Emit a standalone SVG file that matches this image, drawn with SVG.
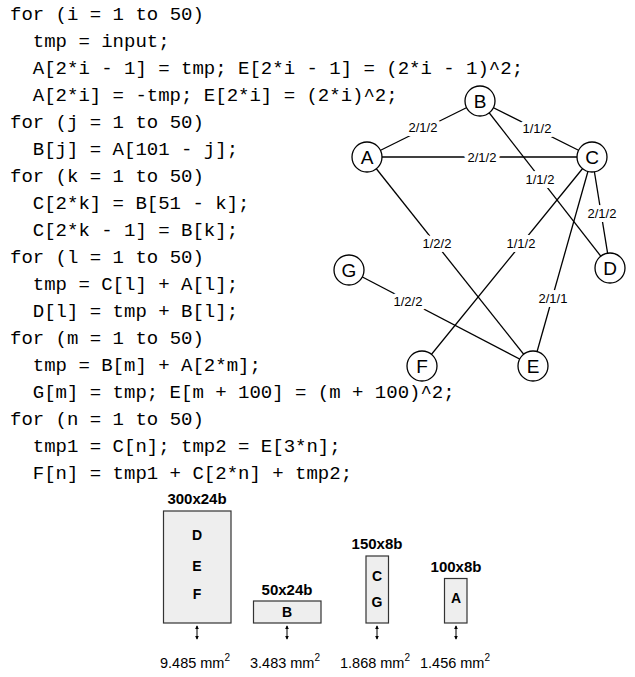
<svg xmlns="http://www.w3.org/2000/svg" width="635" height="677" viewBox="0 0 635 677">
  <style>
    .code { font-family: "Liberation Mono", "DejaVu Sans Mono", monospace; font-size: 19px; fill: #000; white-space: pre; }
    .node circle { fill: #fff; stroke: #000; stroke-width: 1.3; }
    .node text { font-family: "Liberation Sans", Arial, sans-serif; font-size: 19px; text-anchor: middle; fill: #000; }
    .edge { stroke: #000; stroke-width: 1.3; fill: none; }
    .elabel { font-family: "Liberation Sans", Arial, sans-serif; font-size: 13px; text-anchor: middle; fill: #000; stroke: #fff; stroke-width: 8; stroke-linejoin: round; paint-order: stroke; }
    .bank rect { fill: #eeeeee; stroke: #333; stroke-width: 1.2; }
    .bank .size { font-family: "Liberation Sans", Arial, sans-serif; font-size: 15px; font-weight: bold; text-anchor: middle; }
    .bank .var { font-family: "Liberation Sans", Arial, sans-serif; font-size: 14px; font-weight: bold; text-anchor: middle; }
    .area { font-family: "Liberation Sans", Arial, sans-serif; font-size: 14.5px; text-anchor: middle; }
    .tick { stroke: #000; stroke-width: 1; }
  </style>
  <defs>
    <marker id="ah" viewBox="0 0 6 6" refX="5" refY="3" markerWidth="4" markerHeight="4" orient="auto-start-reverse">
      <path d="M0,0 L6,3 L0,6 z" fill="#000"/>
    </marker>
  </defs>

  <!-- loop program -->
  <g id="code">
    <text class="code" x="10" y="20">for (i = 1 to 50)</text>
    <text class="code" x="32.8" y="47">tmp = input;</text>
    <text class="code" x="32.8" y="74">A[2*i - 1] = tmp; E[2*i - 1] = (2*i - 1)^2;</text>
    <text class="code" x="32.8" y="101">A[2*i] = -tmp; E[2*i] = (2*i)^2;</text>
    <text class="code" x="10" y="128">for (j = 1 to 50)</text>
    <text class="code" x="32.8" y="155">B[j] = A[101 - j];</text>
    <text class="code" x="10" y="182">for (k = 1 to 50)</text>
    <text class="code" x="32.8" y="209">C[2*k] = B[51 - k];</text>
    <text class="code" x="32.8" y="236">C[2*k - 1] = B[k];</text>
    <text class="code" x="10" y="263">for (l = 1 to 50)</text>
    <text class="code" x="32.8" y="290">tmp = C[l] + A[l];</text>
    <text class="code" x="32.8" y="317">D[l] = tmp + B[l];</text>
    <text class="code" x="10" y="344">for (m = 1 to 50)</text>
    <text class="code" x="32.8" y="371">tmp = B[m] + A[2*m];</text>
    <text class="code" x="32.8" y="398">G[m] = tmp; E[m + 100] = (m + 100)^2;</text>
    <text class="code" x="10" y="425">for (n = 1 to 50)</text>
    <text class="code" x="32.8" y="452">tmp1 = C[n]; tmp2 = E[3*n];</text>
    <text class="code" x="32.8" y="479">F[n] = tmp1 + C[2*n] + tmp2;</text>
  </g>

  <!-- compatibility graph edges and their labels -->
  <g id="edges">
    <line class="edge" x1="367" y1="157" x2="480" y2="101"/>
    <line class="edge" x1="480" y1="101" x2="592" y2="157"/>
    <line class="edge" x1="367" y1="157" x2="592" y2="157"/>
    <line class="edge" x1="480" y1="101" x2="610" y2="268"/>
    <line class="edge" x1="592" y1="157" x2="610" y2="268"/>
    <line class="edge" x1="592" y1="157" x2="422" y2="366"/>
    <line class="edge" x1="367" y1="157" x2="533" y2="366"/>
    <line class="edge" x1="592" y1="157" x2="533" y2="366"/>
    <line class="edge" x1="349" y1="270" x2="533" y2="366"/>
    <text class="elabel" x="423" y="131.5">2/1/2</text>
    <text class="elabel" x="537" y="132.5">1/1/2</text>
    <text class="elabel" x="482" y="161.5">2/1/2</text>
    <text class="elabel" x="540" y="183.5">1/1/2</text>
    <text class="elabel" x="602" y="217.5">2/1/2</text>
    <text class="elabel" x="521" y="247.5">1/1/2</text>
    <text class="elabel" x="437" y="247.5">1/2/2</text>
    <text class="elabel" x="553" y="302.5">2/1/1</text>
    <text class="elabel" x="408" y="305.5">1/2/2</text>
  </g>

  <g id="node-A" class="node"><circle cx="367" cy="157" r="15"/><text x="367" y="164">A</text></g>
  <g id="node-B" class="node"><circle cx="480" cy="101" r="15"/><text x="480" y="108">B</text></g>
  <g id="node-C" class="node"><circle cx="592" cy="157" r="15"/><text x="592" y="164">C</text></g>
  <g id="node-D" class="node"><circle cx="610" cy="268" r="15"/><text x="610" y="275">D</text></g>
  <g id="node-G" class="node"><circle cx="349" cy="270" r="15"/><text x="349" y="277">G</text></g>
  <g id="node-F" class="node"><circle cx="422" cy="366" r="15"/><text x="422" y="373">F</text></g>
  <g id="node-E" class="node"><circle cx="533" cy="366" r="15"/><text x="533" y="373">E</text></g>

  <!-- memory banks -->
  <g id="bank-DEF" class="bank">
    <text class="size" x="197" y="504">300x24b</text>
    <rect x="163.5" y="511" width="67.5" height="112"/>
    <text class="var" x="197" y="540">D</text>
    <text class="var" x="197" y="571">E</text>
    <text class="var" x="197" y="599">F</text>
  </g>
  <g id="bank-B" class="bank">
    <text class="size" x="287" y="595">50x24b</text>
    <rect x="253.5" y="601" width="67.5" height="22"/>
    <text class="var" x="287" y="617">B</text>
  </g>
  <g id="bank-CG" class="bank">
    <text class="size" x="377" y="549">150x8b</text>
    <rect x="366" y="556" width="22.5" height="67"/>
    <text class="var" x="377" y="581">C</text>
    <text class="var" x="377" y="607">G</text>
  </g>
  <g id="bank-A" class="bank">
    <text class="size" x="456" y="572">100x8b</text>
    <rect x="444.5" y="578.5" width="22.5" height="44.5"/>
    <text class="var" x="456" y="603">A</text>
  </g>

  <!-- area indicators -->
  <g id="areas">
    <line class="tick" x1="197" y1="626" x2="197" y2="639" marker-start="url(#ah)" marker-end="url(#ah)"/>
    <line class="tick" x1="287" y1="626" x2="287" y2="639" marker-start="url(#ah)" marker-end="url(#ah)"/>
    <line class="tick" x1="377" y1="626" x2="377" y2="639" marker-start="url(#ah)" marker-end="url(#ah)"/>
    <line class="tick" x1="456" y1="626" x2="456" y2="639" marker-start="url(#ah)" marker-end="url(#ah)"/>
    <text class="area" x="195" y="668">9.485 mm<tspan font-size="10" dy="-7">2</tspan></text>
    <text class="area" x="285" y="668">3.483 mm<tspan font-size="10" dy="-7">2</tspan></text>
    <text class="area" x="375" y="668">1.868 mm<tspan font-size="10" dy="-7">2</tspan></text>
    <text class="area" x="455" y="668">1.456 mm<tspan font-size="10" dy="-7">2</tspan></text>
  </g>
</svg>
